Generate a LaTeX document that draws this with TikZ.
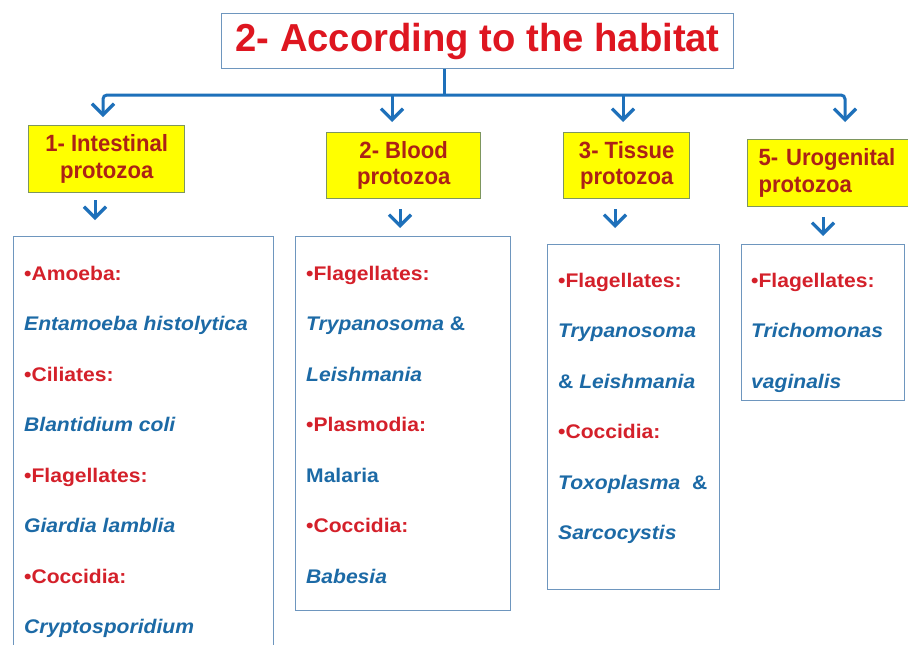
\documentclass[tikz,border=0pt]{standalone}
\usepackage{fontspec}
\setmainfont{Liberation Sans}[FakeStretch=1.07]
\newfontfamily\titlefont{Liberation Sans}[FakeStretch=0.98]
\newfontfamily\yfont{Liberation Sans}[FakeStretch=0.94]
\usetikzlibrary{arrows.meta}
\definecolor{tred}{RGB}{222,22,32}
\definecolor{yred}{RGB}{172,34,22}
\definecolor{hred}{RGB}{212,32,42}
\definecolor{tblue}{RGB}{28,106,166}
\definecolor{lblue}{RGB}{30,112,186}
\definecolor{bord}{RGB}{110,150,190}
\definecolor{ybord}{RGB}{125,150,95}
\definecolor{yfill}{RGB}{255,255,0}
\tikzset{
  titlebox/.style={draw=bord, line width=1.3pt, fill=white, inner sep=0pt, anchor=north west,
    text=tred, font=\titlefont\fontsize{39}{42}\selectfont\bfseries},
  ybox/.style={draw=ybord, line width=1.3pt, fill=yfill, inner sep=0pt, anchor=north west,
    text=yred, align=center, font=\yfont\fontsize{23.5}{26.5}\selectfont\bfseries},
  cbox/.style={draw=bord, line width=1.3pt, fill=white, inner sep=0pt, anchor=north west},
  hd/.style={anchor=base west, inner sep=0pt, text=hred, font=\fontsize{19.7}{22}\selectfont\bfseries},
  sp/.style={anchor=base west, inner sep=0pt, text=tblue, font=\fontsize{19.7}{22}\selectfont\bfseries\itshape},
  spu/.style={anchor=base west, inner sep=0pt, text=tblue, font=\fontsize{19.7}{22}\selectfont\bfseries},
  conn/.style={draw=lblue, line width=3pt},
  tipv/.tip={Straight Barb[length=11pt,width=22pt,line width=3.2pt]},
  arr/.style={conn, -tipv},
  arrs/.style={conn, tipv-tipv, rounded corners=4pt}
}
\begin{document}
\begin{tikzpicture}[x=1pt,y=-1pt]
\useasboundingbox[fill=white] (0,0) rectangle (908,645);

% title
\node[titlebox, minimum width=512, minimum height=55] (title) at (221,13) {2- According to the habitat};

% main connectors
\coordinate (j) at (444,95);
\coordinate (c1) at (103,95);
\coordinate (c2) at (392,95);
\coordinate (c3) at (623,95);
\coordinate (c4) at (845,95);
\coordinate (a1) at (103,117);
\coordinate (a2) at (392,122);
\coordinate (a3) at (623,122);
\coordinate (a4) at (845,122);
\draw[conn] (title.south -| j) -- (j);
\draw[arrs] (a1) -- (c1) -- (c4) -- (a4);
\draw[arr] (c2) -- (a2);
\draw[arr] (c3) -- (a3);

% yellow boxes
\node[ybox, minimum width=156, minimum height=67] (y1) at (28,125) {1- Intestinal\\protozoa};
\node[ybox, minimum width=154, minimum height=66] (y2) at (326,132) {2- Blood\\protozoa};
\node[ybox, minimum width=126, minimum height=66] (y3) at (563,132) {3- Tissue\\protozoa};
\node[ybox, text width=150, inner xsep=11pt, minimum height=67, align=left] (y4) at (747,139) {5- Urogenital\\protozoa};

% small arrows
\coordinate (s1a) at (95,200);  \coordinate (s1b) at (95,220);
\coordinate (s2a) at (400,209); \coordinate (s2b) at (400,228);
\coordinate (s3a) at (615,209); \coordinate (s3b) at (615,228);
\coordinate (s4a) at (823,217); \coordinate (s4b) at (823,236);
\draw[arr] (s1a) -- (s1b);
\draw[arr] (s2a) -- (s2b);
\draw[arr] (s3a) -- (s3b);
\draw[arr] (s4a) -- (s4b);

% content boxes
\node[cbox, minimum width=260, minimum height=430] (b1) at (13,236) {};
\node[cbox, minimum width=215, minimum height=374] (b2) at (295,236) {};
\node[cbox, minimum width=172, minimum height=345] (b3) at (547,244) {};
\node[cbox, minimum width=163, minimum height=156] (b4) at (741,244) {};

% box 1 text
\node[hd] (t11) at (24,280) {•Amoeba:};
\node[sp] (t12) at (24,330) {Entamoeba histolytica};
\node[hd] (t13) at (24,381) {•Ciliates:};
\node[sp] (t14) at (24,431) {Blantidium coli};
\node[hd] (t15) at (24,482) {•Flagellates:};
\node[sp] (t16) at (24,532) {Giardia lamblia};
\node[hd] (t17) at (24,583) {•Coccidia:};
\node[sp] (t18) at (24,633) {Cryptosporidium};

% box 2 text
\node[hd] (t21) at (306,280) {•Flagellates:};
\node[sp] (t22) at (306,330) {Trypanosoma {\upshape\&}};
\node[sp] (t23) at (306,381) {Leishmania};
\node[hd] (t24) at (306,431) {•Plasmodia:};
\node[spu] (t25) at (306,482) {Malaria};
\node[hd] (t26) at (306,532) {•Coccidia:};
\node[sp] (t27) at (306,583) {Babesia};

% box 3 text
\node[hd] (t31) at (558,287) {•Flagellates:};
\node[sp] (t32) at (558,337) {Trypanosoma};
\node[sp] (t33) at (558,388) {{\upshape\&} Leishmania};
\node[hd] (t34) at (558,438) {•Coccidia:};
\node[sp] (t35) at (558,489) {Toxoplasma\ \ {\upshape\&}};
\node[sp] (t36) at (558,539) {Sarcocystis};

% box 4 text
\node[hd] (t41) at (751,287) {•Flagellates:};
\node[sp] (t42) at (751,337) {Trichomonas};
\node[sp] (t43) at (751,388) {vaginalis};
\end{tikzpicture}
\end{document}
